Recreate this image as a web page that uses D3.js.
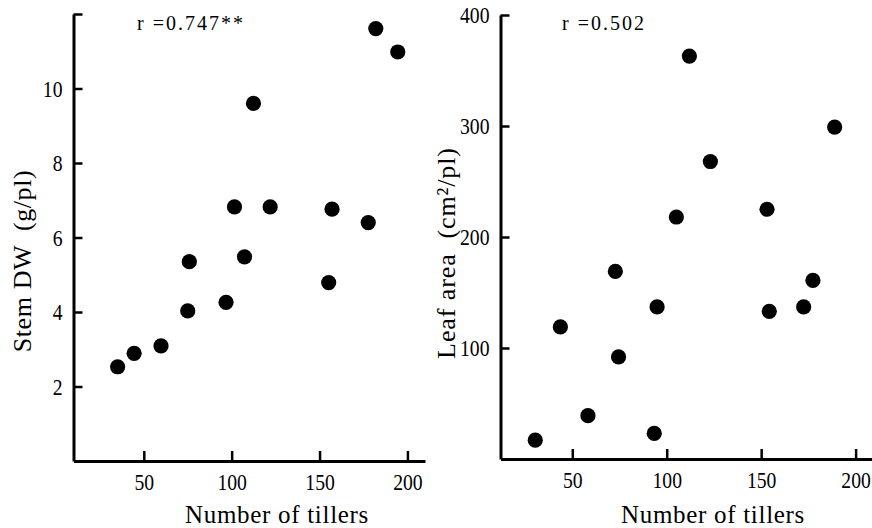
<!DOCTYPE html>
<html><head><meta charset="utf-8">
<script src="https://cdn.jsdelivr.net/npm/d3@7"></script>
<style>
body{margin:0;background:#fff}
text{font-family:"Liberation Serif","Times New Roman",serif;fill:#000}
</style>
</head><body>
<svg id="c" width="872" height="528"></svg>
<script>
// Panel A: Stem DW vs number of tillers
const tillersStem = [182, 194.5, 112.4, 101.6, 121.9, 157.1, 177.7, 75.9, 107.3, 155.2, 75.0, 96.8, 59.8, 44.5, 35.1];
const stemDW      = [11.61, 10.98, 9.60, 6.82, 6.82, 6.76, 6.40, 5.35, 5.48, 4.79, 4.03, 4.26, 3.09, 2.89, 2.53];
// Panel B: Leaf area vs number of tillers
const tillersLeaf = [112.0, 188.9, 123.1, 105.1, 153.1, 72.8, 94.9, 43.7, 177.4, 172.5, 154.3, 74.5, 58.3, 93.4, 30.4];
const leafArea    = [363, 299, 268, 218, 225, 169, 137, 119, 161, 137, 133, 92, 39, 23, 17];

const xTickValues = [50, 100, 150, 200];
const stemTickValues = [2, 4, 6, 8, 10, 12];
const leafTickValues = [100, 200, 300, 400];
const rStem = "r =0.747**";
const rLeaf = "r =0.502";

const svg = d3.select("#c");

function squash(sel, sx) {
  sel.each(function () {
    const t = d3.select(this);
    const x = +t.attr("x") || 0, y = +t.attr("y") || 0;
    t.attr("transform", `translate(${x},${y}) scale(${sx},1) translate(${-x},${-y})`);
  });
}

function panel(cfg) {
  const g = svg.append("g");
  const x = d3.scaleLinear().domain(cfg.xDomain).range(cfg.xRange);
  const y = d3.scaleLinear().domain(cfg.yDomain).range(cfg.yRange);

  const xAxis = d3.axisBottom(x).tickValues(xTickValues).tickSizeInner(-10).tickSizeOuter(0).tickPadding(12);
  const yAxis = d3.axisLeft(y).tickValues(cfg.yTicks).tickSizeInner(-9).tickSizeOuter(0).tickPadding(11)
    .tickFormat(cfg.yFormat);

  const gx = g.append("g").attr("transform", `translate(0,${cfg.yRange[0]})`).call(xAxis);
  const gy = g.append("g").attr("transform", `translate(${cfg.xRange[0]},0)`).call(yAxis);
  [gx, gy].forEach(a => {
    a.attr("font-family", null);
    a.select(".domain").attr("stroke", "#000").attr("stroke-width", 3);
    a.selectAll(".tick line").attr("stroke", "#000").attr("stroke-width", 2.5);
    a.selectAll(".tick text").attr("font-size", 24).attr("fill", "#000");
    squash(a.selectAll(".tick text"), 0.82);
  });

  g.selectAll("circle.pt").data(cfg.xs.map((v, i) => [v, cfg.ys[i]]))
    .join("circle").attr("class", "pt")
    .attr("cx", d => x(d[0])).attr("cy", d => y(d[1])).attr("r", 7.6).attr("fill", "#000");

  g.append("text").attr("x", cfg.rPos[0]).attr("y", cfg.rPos[1])
    .attr("font-size", 20).attr("letter-spacing", 2).text(cfg.rText);

  g.append("text").attr("x", cfg.xLabelPos[0]).attr("y", cfg.xLabelPos[1])
    .attr("text-anchor", "middle").attr("font-size", 25).attr("letter-spacing", 0.7)
    .text("Number of tillers");

  g.append("text").attr("transform", `translate(${cfg.yLabelPos[0]},${cfg.yLabelPos[1]}) rotate(-90)`)
    .attr("text-anchor", "middle").attr("font-size", cfg.yLabelSize).attr("letter-spacing", cfg.yLabelSpacing)
    .style("white-space", "pre")
    .text(cfg.yLabel);
}

panel({
  xDomain: [10, 210], xRange: [73.5, 425],
  yDomain: [0, 12], yRange: [461, 14],
  yTicks: stemTickValues, yFormat: d => d === 12 ? "" : d,
  xs: tillersStem, ys: stemDW,
  rText: rStem, rPos: [137, 30],
  xLabelPos: [277, 523],
  yLabelPos: [31, 261], yLabel: "Stem DW  (g/pl)", yLabelSize: 26, yLabelSpacing: 0.6
});

panel({
  xDomain: [12, 210], xRange: [500.5, 874.5],
  yDomain: [0, 400], yRange: [459, 15],
  yTicks: leafTickValues, yFormat: d => d,
  xs: tillersLeaf, ys: leafArea,
  rText: rLeaf, rPos: [562, 30],
  xLabelPos: [713, 523],
  yLabelPos: [455, 253], yLabel: "Leaf area  (cm²/pl)", yLabelSize: 26, yLabelSpacing: 0.9
});
</script>
</body></html>
